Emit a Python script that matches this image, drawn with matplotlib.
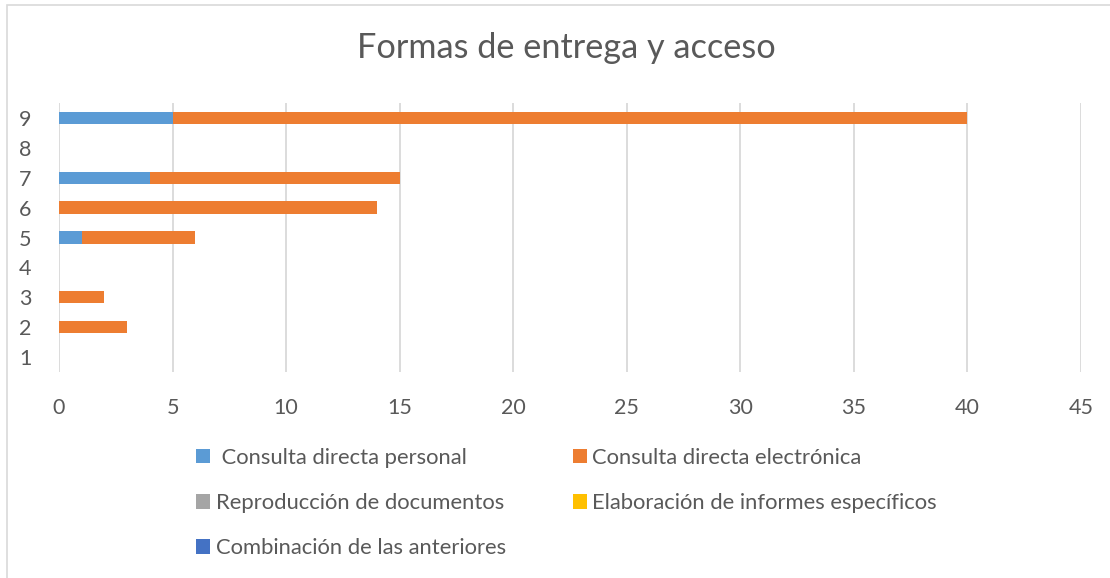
import matplotlib
matplotlib.use("Agg")
import matplotlib.pyplot as plt
from matplotlib.patches import Rectangle

categories = ["1", "2", "3", "4", "5", "6", "7", "8", "9"]
series_names = [
    " Consulta directa personal",
    "Consulta directa electrónica",
    "Reproducción de documentos",
    "Elaboración de informes específicos",
    "Combinación de las anteriores",
]
personal     = [0, 0, 0, 0, 1, 0, 4, 0, 5]
electronica  = [0, 3, 2, 0, 5, 14, 11, 0, 35]
reproduccion = [0, 0, 0, 0, 0, 0, 0, 0, 0]
elaboracion  = [0, 0, 0, 0, 0, 0, 0, 0, 0]
combinacion  = [0, 0, 0, 0, 0, 0, 0, 0, 0]
colors = ["#5B9BD5", "#ED7D31", "#A5A5A5", "#FFC000", "#4472C4"]
xticks = [0, 5, 10, 15, 20, 25, 30, 35, 40, 45]
title = "Formas de entrega y acceso"

plt.rcParams['font.family'] = ['Lato', 'DejaVu Sans']
W, H = 1110, 578
fig = plt.figure(figsize=(W / 100, H / 100), dpi=100)
ax = fig.add_axes([59 / W, 1 - 372 / H, (1081 - 59) / W, (372 - 103) / H])

# chart frame
fig.patches.append(Rectangle((7 / W, -0.1), 1.2, 1 - 5 / H + 0.1, transform=fig.transFigure,
                             fill=False, edgecolor="#D9D9D9", linewidth=1.2, zorder=0))

ypos = list(range(1, len(categories) + 1))
left = [0] * len(categories)
handles = []
for name, vals, c in zip(series_names,
                         [personal, electronica, reproduccion, elaboracion, combinacion],
                         colors):
    bars = ax.barh(ypos, vals, left=left, height=0.41, color=c, linewidth=0, zorder=3, label=name)
    handles.append(bars)
    left = [l + v for l, v in zip(left, vals)]

ax.set_xlim(0, 45)
ax.set_ylim(0.5, 9.5)
ax.set_xticks(xticks)
ax.set_yticks(ypos)
ax.set_yticklabels(categories)
ax.grid(axis="x", color="#D9D9D9", linewidth=1.3, zorder=0)
for s in ax.spines.values():
    s.set_visible(False)
ax.tick_params(length=0, labelsize=15.5, labelcolor="#595959")
ax.tick_params(axis="x", pad=19)
ax.tick_params(axis="y", pad=20)

fig.text(566 / W, 1 - 48 / H, title, ha="center", va="center", fontsize=24.7, color="#595959")

order = [0, 2, 4, 1, 3]
leg = fig.legend([handles[i] for i in order], [series_names[i] for i in order],
                 ncol=2, loc="upper left", bbox_to_anchor=(187 / W, 1 - 439 / H),
                 frameon=False, fontsize=15.8, labelcolor="#595959",
                 handlelength=0.65, handleheight=0.65, handletextpad=0.25,
                 columnspacing=3.05, labelspacing=1.15, borderaxespad=0)

fig.savefig("out.png", dpi=100)
